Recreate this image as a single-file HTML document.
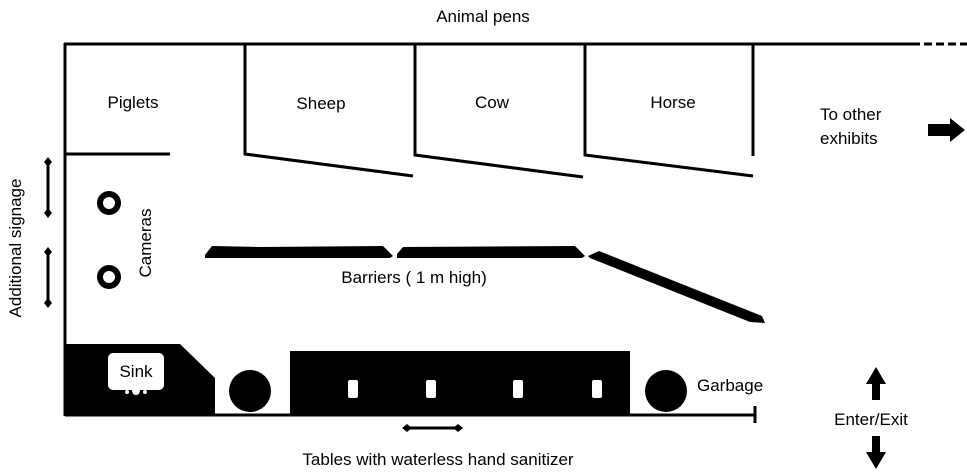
<!DOCTYPE html>
<html><head><style>
body{margin:0;background:#fff}
svg{display:block}
text{font-family:"Liberation Sans",Arial,sans-serif;font-size:17px;fill:#000}
</style></head><body>
<svg width="967" height="474" viewBox="0 0 967 474" xmlns="http://www.w3.org/2000/svg">
<text x="483" y="22" text-anchor="middle">Animal pens</text>
<g stroke="#000" stroke-width="3" fill="none">
<line x1="64" y1="44" x2="912" y2="44"/>
<line x1="912" y1="44" x2="967" y2="44" stroke-dasharray="8,4"/>
<line x1="65" y1="43" x2="65" y2="416"/>
<line x1="65" y1="154" x2="170" y2="154"/>
<polyline points="245,44 245,154 413,176"/>
<polyline points="415,44 415,155 583,177"/>
<polyline points="585,44 585,155 753,176"/>
<line x1="753" y1="44" x2="753" y2="156"/>
<line x1="65" y1="415" x2="755" y2="415"/>
<line x1="755" y1="406" x2="755" y2="423"/>
<line x1="48" y1="162" x2="48" y2="213"/>
<line x1="48" y1="252" x2="48" y2="303"/>
<line x1="407" y1="428" x2="458" y2="428"/>
</g>
<g fill="#000">
<polygon points="44,162 48,157 52,162 48,167"/><polygon points="44,213 48,208 52,213 48,218"/>
<polygon points="44,252 48,247 52,252 48,257"/><polygon points="44,303 48,298 52,303 48,308"/>
<polygon points="402,428 407,424 412,428 407,432"/><polygon points="453,428 458,424 463,428 458,432"/>
<polygon points="205,255 212,246 260,247 383,246 393,256 390,258 205,258"/>
<polygon points="397,254 403,247 575,246 585,256 582,258 397,258"/>
<polygon points="588,256 599,251 762,316 765,323 750,322 590,258"/>
<polygon points="65,344 180,344 215,378 215,415 65,415"/>
<circle cx="250" cy="391" r="21"/>
<rect x="290" y="351" width="340" height="63"/>
<circle cx="666" cy="391" r="21"/>
<polygon points="928,124 950,124 950,118 965,130 950,142 950,136 928,136"/>
<polygon points="872,400 872,384 866,384 876,367 886,384 880,384 880,400"/>
<polygon points="872,436 872,452 866,452 876,469 886,452 880,452 880,436"/>
</g>
<circle cx="109" cy="203" r="9" fill="none" stroke="#000" stroke-width="6"/>
<circle cx="109" cy="277" r="9" fill="none" stroke="#000" stroke-width="6"/>
<rect x="108" y="353" width="56" height="37" rx="5" fill="#fff"/>
<text x="136" y="377" text-anchor="middle">Sink</text>
<circle cx="136" cy="391" r="4" fill="#fff"/><circle cx="127" cy="392" r="2" fill="#fff"/><circle cx="145" cy="392" r="2" fill="#fff"/>
<g fill="#fff">
<rect x="348" y="380" width="10" height="18" rx="2"/>
<rect x="426" y="380" width="10" height="18" rx="2"/>
<rect x="513" y="380" width="10" height="18" rx="2"/>
<rect x="592" y="380" width="10" height="18" rx="2"/>
</g>
<text x="133" y="108" text-anchor="middle">Piglets</text>
<text x="321" y="109" text-anchor="middle">Sheep</text>
<text x="492" y="108" text-anchor="middle">Cow</text>
<text x="673" y="108" text-anchor="middle">Horse</text>
<text x="820" y="120">To other</text>
<text x="820" y="144">exhibits</text>
<text x="414" y="283" text-anchor="middle">Barriers ( 1 m high)</text>
<text x="697" y="391">Garbage</text>
<text x="871" y="425" text-anchor="middle">Enter/Exit</text>
<text x="438" y="465" text-anchor="middle">Tables with waterless hand sanitizer</text>
<text transform="translate(151,243) rotate(-90)" text-anchor="middle">Cameras</text>
<text transform="translate(21,248) rotate(-90)" text-anchor="middle">Additional signage</text>
</svg>
</body></html>
